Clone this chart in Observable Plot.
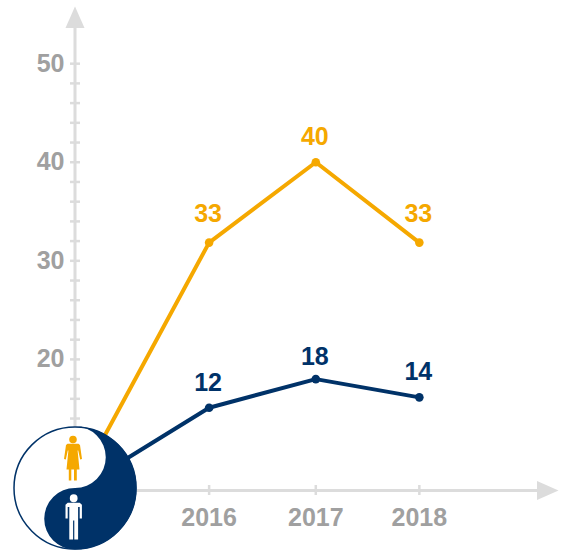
<!DOCTYPE html>
<html>
<head>
<meta charset="utf-8">
<script src="https://cdn.jsdelivr.net/npm/d3@7"></script>
<script src="https://cdn.jsdelivr.net/npm/@observablehq/plot@0.6"></script>
<style>
html,body{margin:0;padding:0;background:#fff}
svg{display:block}
</style>
</head>
<body>
<div id="chart"></div>
<script>
const years = [2016, 2017.015, 2018];
const originYear = 2014.724;
const originValue = 6.7;
const womenValues = [31.85, 40, 31.85];
const menValues = [15.1, 18, 16.15];
const womenLabels = ["33", "40", "33"];
const menLabels = ["12", "18", "14"];
const womenLabelAt = [34.8, 42.6, 34.8];
const menLabelAt = [17.6, 20.2, 18.7];
const yTickLabels = [20, 30, 40, 50];
const yTicks = [8,10,12,14,16,18,20,22,24,26,28,30,32,34,36,38,40,42,44,46,48,50];

const NAVY = "#003268", ORANGE = "#f5a800", AXIS = "#dcdcdc", GREY = "#a0a0a0";
const FONT = "'Liberation Sans', Helvetica, Arial, sans-serif";

const series = (vals) => [{year: originYear, v: originValue}, ...years.map((y, i) => ({year: y, v: vals[i]}))];
const pts = (vals, labels, at) => years.map((y, i) => ({year: y, v: vals[i], label: labels[i], at: at[i]}));

// Custom symbols
const arrowHead = {draw(c) {
  c.moveTo(0, -11); c.lineTo(9.5, 10.5); c.lineTo(-9.5, 10.5); c.closePath();
}};
const yinDark = {draw(c, size) {
  const R = Math.sqrt(size / Math.PI);
  c.moveTo(0, -R);
  c.arc(0, 0, R, -Math.PI / 2, Math.PI / 2, false);
  c.arc(0, R / 2, R / 2, Math.PI / 2, 3 * Math.PI / 2, false);
  c.arc(0, -R / 2, R / 2, Math.PI / 2, -Math.PI / 2, true);
  c.closePath();
}};
const disc = {draw(c, size) {
  const R = Math.sqrt(size / Math.PI);
  c.moveTo(R, 0); c.arc(0, 0, R, 0, 2 * Math.PI); c.closePath();
}};
const poly = (c, p) => { p.forEach(([x, y], i) => i ? c.lineTo(x, y) : c.moveTo(x, y)); c.closePath(); };
const woman = {draw(c) {
  c.moveTo(3.8, -21); c.arc(0, -21, 3.8, 0, 2 * Math.PI); c.closePath();
  poly(c, [[-5.5,-16.8],[5.5,-16.8],[7,-15.5],[9,-1.5],[7.2,-1],[5.2,-10],[4.6,-10],[6.5,9],[3.8,9],[3.8,20],[1,20],[1,9],[-1.7,9],[-1.7,20],[-4.2,20],[-4.2,9],[-6.5,9],[-4.6,-10],[-5.2,-10],[-7.2,-1],[-9,-1.5],[-7,-15.5]]);
}};
const man = {draw(c) {
  c.moveTo(3.9, -24.3); c.arc(0, -24.3, 3.9, 0, 2 * Math.PI); c.closePath();
  poly(c, [[-6,-19.8],[6,-19.8],[8.2,-17.8],[8.2,-4],[6,-4],[6,-15.5],[4.4,-15.5],[4.4,17],[0.6,17],[0.6,-2],[-0.6,-2],[-0.6,17],[-4.4,17],[-4.4,-15.5],[-6,-15.5],[-6,-4],[-8.2,-4],[-8.2,-17.8]]);
}};

const yTop = 55.8, xEnd = 2019.324;
const emblem = [{year: originYear, v: 6.95}];
const numStyle = {fontFamily: FONT, fontWeight: "bold", fontSize: 25};

const chart = Plot.plot({
  width: 568, height: 552,
  marginLeft: 75, marginTop: 6, marginRight: 10, marginBottom: 62,
  style: {background: "#fff", fontFamily: FONT},
  x: {domain: [originYear, xEnd], range: [74.5, 558]},
  y: {domain: [originValue, yTop], range: [490, 6]},
  marks: [
    Plot.ruleX([originYear], {y1: originValue, y2: yTop - 1, stroke: AXIS, strokeWidth: 3}),
    Plot.ruleY([originValue], {x1: originYear, x2: xEnd - 0.1, stroke: AXIS, strokeWidth: 3}),
    Plot.dot([{x: originYear, y: yTop}], {x: "x", y: "y", symbol: arrowHead, fill: AXIS, stroke: "none", dy: 11}),
    Plot.dot([{x: xEnd, y: originValue}], {x: "x", y: "y", symbol: arrowHead, fill: AXIS, stroke: "none", rotate: 90, dx: -11}),
    Plot.axisY({ticks: yTicks, tickSize: 10, dx: 5, text: null, stroke: AXIS, strokeWidth: 2.5}),
    Plot.axisY({ticks: yTickLabels, tickSize: 0, tickPadding: 11, fill: GREY, tickFormat: d => String(d), ...numStyle}),
    Plot.axisX({ticks: years, tickSize: 10, dy: -5, text: null, stroke: AXIS, strokeWidth: 2.5}),
    Plot.axisX({ticks: years, tickSize: 0, tickPadding: 18, fill: GREY, tickFormat: d => String(Math.round(d)), ...numStyle}),
    Plot.line(series(womenValues), {x: "year", y: "v", stroke: ORANGE, strokeWidth: 4}),
    Plot.line(series(menValues), {x: "year", y: "v", stroke: NAVY, strokeWidth: 4}),
    Plot.dot(pts(womenValues, womenLabels, womenLabelAt), {x: "year", y: "v", r: 4.3, fill: ORANGE, stroke: "none"}),
    Plot.dot(pts(menValues, menLabels, menLabelAt), {x: "year", y: "v", r: 4.3, fill: NAVY, stroke: "none"}),
    Plot.text(pts(womenValues, womenLabels, womenLabelAt), {x: "year", y: "at", text: "label", fill: ORANGE, dx: -1, ...numStyle}),
    Plot.text(pts(menValues, menLabels, menLabelAt), {x: "year", y: "at", text: "label", fill: NAVY, dx: -1, ...numStyle}),
    Plot.dot(emblem, {x: "year", y: "v", r: 61, symbol: disc, fill: "#fff", stroke: NAVY, strokeWidth: 1.5}),
    Plot.dot(emblem, {x: "year", y: "v", r: 61.5, symbol: yinDark, fill: NAVY, stroke: "none"}),
    Plot.dot(emblem, {x: "year", y: "v", symbol: woman, fill: ORANGE, stroke: "none", dx: -2, dy: -27.5}),
    Plot.dot(emblem, {x: "year", y: "v", symbol: man, fill: "#fff", stroke: "none", dx: -1.3, dy: 34.5})
  ]
});
document.getElementById("chart").appendChild(chart);
</script>
</body>
</html>
